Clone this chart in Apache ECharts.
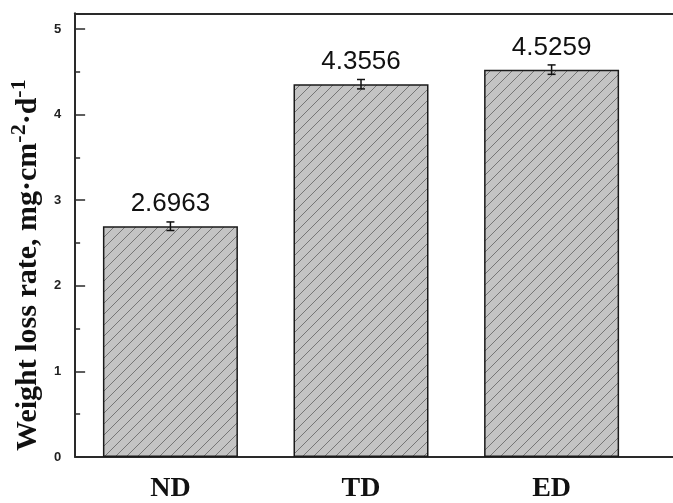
<!DOCTYPE html>
<html>
<head>
<meta charset="utf-8">
<script src="https://cdn.jsdelivr.net/npm/echarts@6/dist/echarts.min.js"></script>
<style>
  html, body { margin: 0; padding: 0; background: #fff; overflow: hidden; }
  #chart { width: 673px; height: 503px; }
</style>
</head>
<body>
<div id="chart"></div>
<script>
// Weight loss rate per specimen group (mg·cm^-2·d^-1)
const categories = ['ND', 'TD', 'ED'];
const rates = [2.6963, 4.3556, 4.5259];
const errors = [0.05, 0.055, 0.055];
const yTickLabels = ['0', '1', '2', '3', '4', '5'];

// grey fill with thin diagonal hatching
function hatchPattern() {
  const s = 11;
  const c = document.createElement('canvas');
  c.width = s; c.height = s;
  const g = c.getContext('2d');
  g.fillStyle = '#c4c4c4';
  g.fillRect(0, 0, s, s);
  g.strokeStyle = '#767676';
  g.lineWidth = 1;
  g.beginPath();
  g.moveTo(-1, s + 1); g.lineTo(s + 1, -1);
  g.moveTo(-2, 2); g.lineTo(2, -2);
  g.moveTo(s - 2, s + 2); g.lineTo(s + 2, s - 2);
  g.stroke();
  return c;
}

const barData = categories.map((c, i) => [i + 1, rates[i]]);
const errData = categories.map((c, i) => [i + 1, rates[i], errors[i]]);

const chart = echarts.init(document.getElementById('chart'), null, { renderer: 'canvas' });

const axisColor = '#2a2a2a';

chart.setOption({
  animation: false,
  backgroundColor: '#ffffff',
  grid: { left: 69.7, right: 0, top: 13.3, bottom: 39.5, containLabel: false },
  xAxis: [
    {
      type: 'value',
      min: 0.5,
      max: 3.637,
      interval: 0.5,
      axisLine: { show: true, onZero: false, lineStyle: { color: axisColor, width: 2 } },
      axisTick: { show: false },
      splitLine: { show: false },
      axisLabel: {
        margin: 18,
        showMaxLabel: false,
        formatter: v => {
          const i = Math.round(v);
          return Math.abs(v - i) < 1e-6 && i >= 1 && i <= categories.length ? categories[i - 1] : '';
        },
        fontFamily: 'Liberation Serif',
        fontWeight: 'bold',
        fontSize: 28,
        color: '#111'
      }
    },
    {
      type: 'value',
      position: 'top',
      min: 0.5,
      max: 3.637,
      axisLine: { show: true, onZero: false, lineStyle: { color: axisColor, width: 2 } },
      axisTick: { show: false },
      axisLabel: { show: false },
      splitLine: { show: false }
    }
  ],
  yAxis: {
    type: 'value',
    min: 0,
    max: 5.184,
    interval: 1,
    axisLine: { show: true, onZero: false, lineStyle: { color: axisColor, width: 2 } },
    axisTick: { show: true, inside: true, length: 10, lineStyle: { color: axisColor, width: 1.5 } },
    minorTick: { show: true, splitNumber: 2, length: 5, lineStyle: { color: axisColor, width: 1.5 } },
    splitLine: { show: false },
    axisLabel: {
      margin: 14,
      showMaxLabel: false,
      formatter: v => {
        const i = Math.round(v);
        return Math.abs(v - i) < 1e-6 && i < yTickLabels.length ? yTickLabels[i] : '';
      },
      fontFamily: 'Liberation Sans',
      fontWeight: 'bold',
      fontSize: 13,
      color: '#222'
    },
    name: '{a|Weight loss rate, mg·cm}{s|-2}{a|·d}{s|-1}',
    nameLocation: 'middle',
    nameGap: 15,
    nameRotate: 90,
    nameTextStyle: {
      padding: [0, 60, 0, 0],
      rich: {
        a: { fontFamily: 'Liberation Serif', fontWeight: 'bold', fontSize: 30, color: '#111' },
        s: { fontFamily: 'Liberation Serif', fontWeight: 'bold', fontSize: 22, color: '#111', padding: [0, 0, 18, 0] }
      }
    }
  },
  series: [
    {
      type: 'bar',
      data: barData,
      barWidth: 135,
      itemStyle: {
        color: { image: hatchPattern(), repeat: 'repeat' },
        borderColor: '#1a1a1a',
        borderWidth: 1.5
      },
      label: {
        show: true,
        position: 'top',
        distance: 9,
        formatter: p => p.value[1].toFixed(4),
        fontFamily: 'Liberation Sans',
        fontSize: 26,
        color: '#111'
      },
      z: 2
    },
    {
      type: 'custom',
      data: errData,
      z: 5,
      renderItem: (params, api) => {
        const x = api.value(0), v = api.value(1), e = api.value(2);
        const hi = api.coord([x, v + e]);
        const lo = api.coord([x, v - e]);
        const w = 4;
        const st = { stroke: '#111', lineWidth: 1.5 };
        return {
          type: 'group',
          children: [
            { type: 'line', shape: { x1: hi[0], y1: hi[1], x2: lo[0], y2: lo[1] }, style: st },
            { type: 'line', shape: { x1: hi[0] - w, y1: hi[1], x2: hi[0] + w, y2: hi[1] }, style: st },
            { type: 'line', shape: { x1: lo[0] - w, y1: lo[1], x2: lo[0] + w, y2: lo[1] }, style: st }
          ]
        };
      }
    }
  ]
});
</script>
</body>
</html>
